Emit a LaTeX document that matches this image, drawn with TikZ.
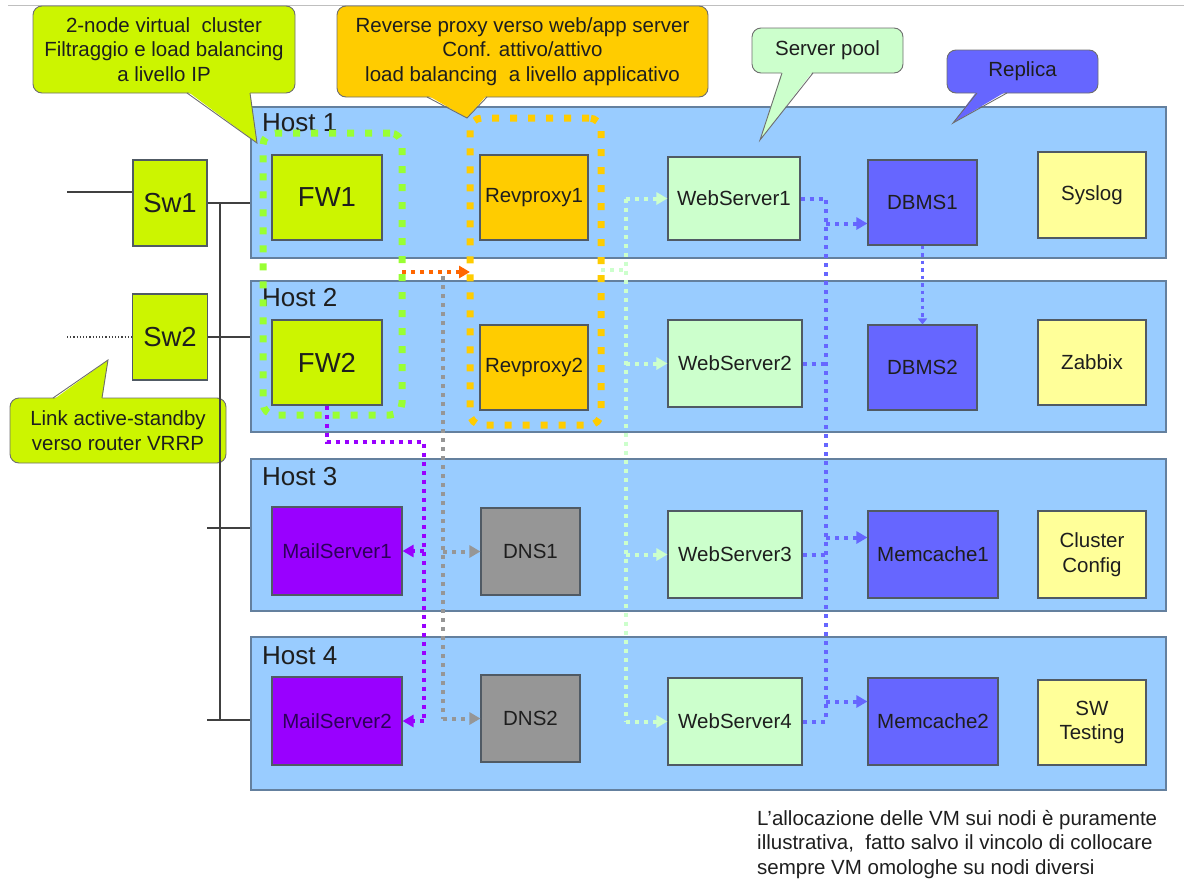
\documentclass[tikz,border=0pt]{standalone}
\usepackage{fontspec}
\setmainfont{Liberation Sans}
\usetikzlibrary{arrows.meta,calc}
\definecolor{hostfill}{RGB}{153,204,255}
\definecolor{hostline}{RGB}{100,128,158}
\definecolor{boxline}{RGB}{80,90,100}
\definecolor{limec}{RGB}{204,245,0}
\definecolor{orangec}{RGB}{255,204,0}
\definecolor{webc}{RGB}{204,255,204}
\definecolor{dbc}{RGB}{102,102,255}
\definecolor{yelc}{RGB}{255,255,153}
\definecolor{mailc}{RGB}{153,0,255}
\definecolor{dnsc}{RGB}{150,150,150}
\definecolor{grpgreen}{RGB}{153,255,51}
\definecolor{redc}{RGB}{255,102,0}
\definecolor{txt}{RGB}{30,30,30}
\definecolor{cline}{RGB}{110,110,110}
\begin{document}
\begin{tikzpicture}[x=1pt,y=-1pt,
  host/.style={draw=hostline, fill=hostfill, line width=1.2pt, inner sep=0pt},
  hostlabel/.style={anchor=base west, inner sep=0pt, text=txt, font=\fontsize{26}{30}\selectfont},
  vm/.style={draw=boxline, line width=1.1pt, inner sep=0pt, align=center, text=txt, font=\fontsize{20.5}{24.5}\selectfont},
  big/.style={vm, font=\fontsize{27.5}{32}\selectfont},
  callout/.style={draw=cline, line width=0.9pt, rounded corners=9pt, inner sep=0pt, align=center, text=txt, font=\fontsize{20.5}{24.5}\selectfont},
  grp/.style={line width=7pt, dash pattern=on 7pt off 11pt, rounded corners=12pt, inner sep=0pt},
  conn/.style={line width=4pt, dash pattern=on 4pt off 5pt},
  tip/.style={-{Triangle[length=11pt,width=12pt]}},
  wire/.style={draw=black!75, line width=1.3pt}
]
\useasboundingbox (0,0) rectangle (1184,881);
\draw[black!25, line width=1pt] (8,5) -- (1184,5);

% hosts
\node[host, minimum width=915, minimum height=151] (h1) at (708.5,182.5) {};
\node[host, minimum width=915, minimum height=151] (h2) at (708.5,356.5) {};
\node[host, minimum width=915, minimum height=152] (h3) at (708.5,535) {};
\node[host, minimum width=915, minimum height=153] (h4) at (708.5,713.5) {};
\node[hostlabel] (hl1) at (262,131) {Host 1};
\node[hostlabel] (hl2) at (262,306) {Host 2};
\node[hostlabel] (hl3) at (262,485) {Host 3};
\node[hostlabel] (hl4) at (262,664) {Host 4};

% groups
\node[grp, draw=grpgreen, minimum width=139, minimum height=282] (gfw) at (332.5,274) {};
\node[grp, draw=orangec, minimum width=131, minimum height=307] (grp) at (535.5,271.5) {};

% switches
\node[big, fill=limec, minimum width=74, minimum height=86] (sw1) at (170,203) {Sw1};
\node[big, fill=limec, minimum width=75, minimum height=86] (sw2) at (170,337) {Sw2};

% VMs
\node[big, fill=limec, minimum width=110, minimum height=85] (fw1) at (327,197.5) {FW1};
\node[big, fill=limec, minimum width=110, minimum height=85] (fw2) at (327,362.5) {FW2};
\node[vm, fill=orangec, minimum width=108, minimum height=85] (rp1) at (534,197.5) {Revproxy1};
\node[vm, fill=orangec, minimum width=108, minimum height=85] (rp2) at (534,367.5) {Revproxy2};
\node[vm, fill=webc, minimum width=132, minimum height=83] (ws1) at (734,198.5) {WebServer1};
\node[vm, fill=webc, minimum width=134, minimum height=87] (ws2) at (735,363.5) {WebServer2};
\node[vm, fill=webc, minimum width=134, minimum height=87] (ws3) at (735,554.5) {WebServer3};
\node[vm, fill=webc, minimum width=134, minimum height=87] (ws4) at (735,721.5) {WebServer4};
\node[vm, fill=dbc, minimum width=109, minimum height=85] (db1) at (922.5,202.5) {DBMS1};
\node[vm, fill=dbc, minimum width=109, minimum height=85] (db2) at (922.5,367.5) {DBMS2};
\node[vm, fill=dbc, minimum width=130, minimum height=87] (mc1) at (933,554.5) {Memcache1};
\node[vm, fill=dbc, minimum width=130, minimum height=87] (mc2) at (933,721.5) {Memcache2};
\node[vm, fill=yelc, minimum width=108, minimum height=86] (sys) at (1092,195) {Syslog};
\node[vm, fill=yelc, minimum width=108, minimum height=85] (zab) at (1092,362.5) {Zabbix};
\node[vm, fill=yelc, minimum width=108, minimum height=87] (cc) at (1092,554.5) {Cluster\\Config};
\node[vm, fill=yelc, minimum width=108, minimum height=85] (swt) at (1092,722.5) {SW\\Testing};
\node[vm, fill=mailc, text={rgb,255:red,45;green,0;blue,90}, minimum width=130, minimum height=88] (ms1) at (337,551) {MailServer1};
\node[vm, fill=mailc, text={rgb,255:red,45;green,0;blue,90}, minimum width=130, minimum height=88] (ms2) at (337,721) {MailServer2};
\node[vm, fill=dnsc, minimum width=99, minimum height=87] (dns1) at (530.5,551.5) {DNS1};
\node[vm, fill=dnsc, minimum width=99, minimum height=87] (dns2) at (530.5,718.5) {DNS2};

% callout: link
\node[callout, fill=limec, minimum width=216, minimum height=65] (c5) at (118,430.5) {Link active-standby\\verso router VRRP};
\fill[limec] (53,400) -- (108,360) -- (102,400) -- cycle;
\draw[cline, line width=0.9pt] (53,398) -- (108,360) -- (102,398);

% wiring
\coordinate (in1) at (67,192);
\coordinate (in2) at (67,337);
\draw[wire] (in1) -- (in1 -| sw1.west);
\draw[black!75, line width=1.2pt, dotted] (in2) -- (sw2.west);
\draw[wire] (sw1.east) -- (sw1.east -| h1.west);
\draw[wire] (sw2.east) -- (sw2.east -| h2.west);
\coordinate (btop) at (220,203);
\coordinate (bbot) at (220,720);
\draw[wire] (btop) -- (bbot);
\coordinate (t3) at (207,528);
\coordinate (t4) at (207,720);
\draw[wire] (t3) -- (t3 -| h3.west);
\draw[wire] (t4) -- (t4 -| h4.west);

% red arrow between groups
\coordinate (r0) at (402,272);
\coordinate (r1) at (470,272);
\draw[conn, draw=redc, tip] (r0) -- (r1);

% gray to DNS
\coordinate (g0) at (443,276);
\coordinate (g1) at (443,551.5);
\coordinate (g2) at (443,718.5);
\draw[conn, draw=dnsc] (g0) -- (g2);
\draw[conn, draw=dnsc, tip] (g1) -- (dns1.west);
\draw[conn, draw=dnsc, tip] (g2) -- (dns2.west);

% purple to mail
\coordinate (p1) at (327,442);
\coordinate (p2) at (424,442);
\coordinate (p3) at (424,551);
\coordinate (p4) at (424,721);
\draw[conn, draw=mailc] (fw2.south) -- (p1) -- (p2) -- (p4);
\draw[conn, draw=mailc, tip] (p3) -- (ms1.east);
\draw[conn, draw=mailc, tip] (p4) -- (ms2.east);

% light green to web servers
\coordinate (l0) at (601,270);
\coordinate (l1) at (626,270);
\coordinate (lx) at (626,0);
\draw[conn, draw=webc] (l0) -- (l1);
\draw[conn, draw=webc] (ws1.west -| lx) -- (ws4.west -| lx);
\draw[conn, draw=webc, tip] (ws1.west -| lx) -- (ws1.west);
\draw[conn, draw=webc, tip] (ws2.west -| lx) -- (ws2.west);
\draw[conn, draw=webc, tip] (ws3.west -| lx) -- (ws3.west);
\draw[conn, draw=webc, tip] (ws4.west -| lx) -- (ws4.west);

% blue to DB / memcache
\coordinate (bx) at (826,0);
\draw[conn, draw=dbc] (ws1.east) -- (ws1.east -| bx) -- (ws4.east -| bx) -- (ws4.east);
\draw[conn, draw=dbc] (ws2.east) -- (ws2.east -| bx);
\draw[conn, draw=dbc] (ws3.east) -- (ws3.east -| bx);
\coordinate (d1) at ($(db1.west)+(0,21)$);
\coordinate (m1) at ($(mc1.west)+(0,-17)$);
\coordinate (m2) at ($(mc2.west)+(0,-20)$);
\draw[conn, draw=dbc, tip] (d1 -| bx) -- (d1);
\draw[conn, draw=dbc, tip] (m1 -| bx) -- (m1);
\draw[conn, draw=dbc, tip] (m2 -| bx) -- (m2);
\draw[line width=3.5pt, dash pattern=on 3.5pt off 4pt, draw=dbc, -{Triangle[length=6pt,width=9pt]}] (db1.south) -- (db2.north);

% callouts
\node[callout, fill=limec, minimum width=262, minimum height=87] (c1) at (164,49.5) {2-node virtual\ \ cluster\\Filtraggio e load balancing\\a livello IP};
\fill[limec] (187,91) -- (257,143) -- (250,91) -- cycle;
\draw[cline, line width=0.9pt] (187,93) -- (257,143) -- (250,93);

\node[callout, fill=orangec, minimum width=371, minimum height=91] (c2) at (522.5,51.5) {Reverse proxy verso web/app server\\Conf. attivo/attivo\\load balancing\ \ a livello applicativo};
\fill[orangec] (427,95) -- (467,118) -- (487,95) -- cycle;
\draw[cline, line width=0.9pt] (427,97) -- (467,118) -- (487,97);

\node[callout, fill=webc, minimum width=151, minimum height=45] (c3) at (827.5,50.5) {Server pool};
\fill[webc] (782,71) -- (760,140) -- (813,71) -- cycle;
\draw[cline, line width=0.9pt] (782,73) -- (760,140) -- (813,73);

\node[callout, fill=dbc, minimum width=151, minimum height=43] (c4) at (1022.5,71.5) {Replica};
\fill[dbc] (977,91) -- (953,123) -- (1007,91) -- cycle;
\draw[cline, line width=0.9pt] (977,93) -- (953,123) -- (1007,93);

% note
\node[anchor=north west, inner sep=0pt, align=left, text=txt, font=\fontsize{20.5}{24.5}\selectfont] (note) at (757,810) {L'allocazione delle VM sui nodi è puramente\\illustrativa,\ \ fatto salvo il vincolo di collocare\\sempre VM omologhe su nodi diversi};
\end{tikzpicture}
\end{document}
